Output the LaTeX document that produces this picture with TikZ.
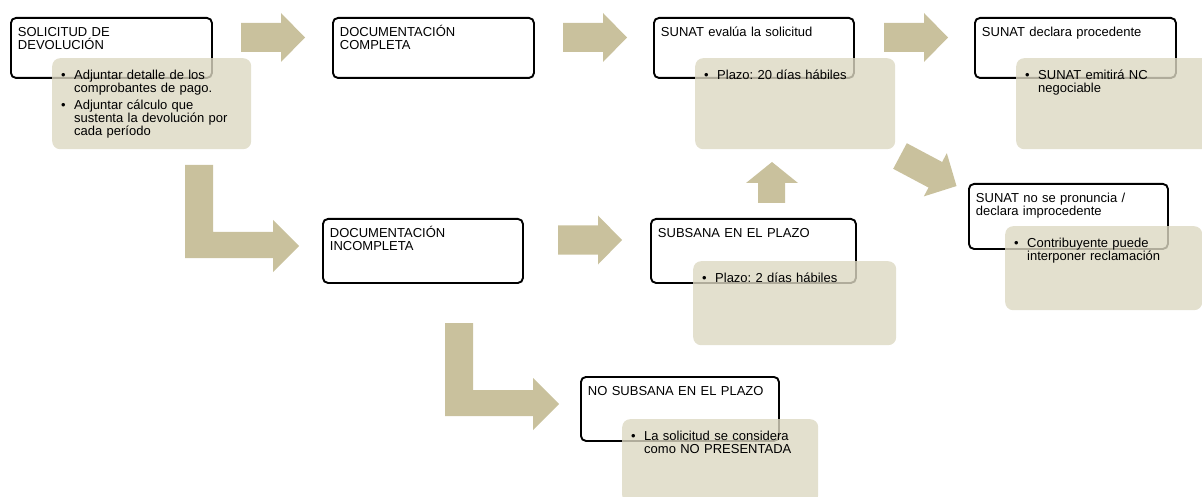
\documentclass[tikz,border=0pt]{standalone}
\usepackage{fontspec}
\setmainfont{Liberation Sans}
\usepackage{xcolor}
\usepackage{tikz}
\definecolor{flechaoliva}{HTML}{C9C19D}
\definecolor{notafondo}{HTML}{DCD8C2}
\hyphenpenalty=10000
\exhyphenpenalty=10000
\frenchspacing
\newcommand{\vineta}[1]{\hangindent=13pt\hangafter=1\noindent\makebox[13pt][l]{\textbullet}#1\par}
\tikzset{
  caja/.style={draw=black, line width=1.9pt, rounded corners=5pt, anchor=north west, align=left, inner xsep=7pt, inner ysep=7pt, text height=12pt, text depth=34pt},
  nota/.style={fill=notafondo, fill opacity=0.8, text opacity=1, rounded corners=8pt, anchor=north west, align=left, inner xsep=9pt, inner ysep=7pt, text height=14pt, text depth=63pt, text width=181pt},
  flecha/.style={fill=flechaoliva},
  flechabloque/.pic={\fill[flecha] (0,-14.5) -- (40,-14.5) -- (40,-24.5) -- (64,0) -- (40,24.5) -- (40,14.5) -- (0,14.5) -- cycle;},
  flechaL/.pic={\fill[flecha] (0,0) -- (28,0) -- (28,67) -- (88,67) -- (88,55) -- (114,81) -- (88,107) -- (88,93) -- (0,93) -- cycle;}
}

\begin{document}
\begin{tikzpicture}[x=1pt, y=-1pt, font=\fontsize{13}{13}\selectfont]
  \useasboundingbox (0,0) rectangle (1202,497);
  \clip (0,0) rectangle (1202,497);
  \foreach \xx in {241,563,884}{
    \pic at (\xx,37.5) {flechabloque};
  }
  \pic at (558,240) {flechabloque};
  \pic[rotate=-28] at (900,156) {flechabloque};
  \pic at (185,165) {flechaL};
  \pic at (445,323) {flechaL};
  \fill[flecha] (758,203) -- (758,183) -- (746,183) -- (772,162) -- (798,183) -- (785,183) -- (785,203) -- cycle;

  \node[caja, text width=187pt] (solicitud) at (10,17) {SOLICITUD DE\\DEVOLUCIÓN};
  \node[nota] (solicitudnota) at (52,58) {\vineta{Adjuntar detalle de los comprobantes de pago.}\vspace{4pt}\vineta{Adjuntar cálculo que sustenta la devolución por cada período}};
  \node[caja, text width=187pt] (completa) at (332,17) {DOCUMENTACIÓN\\COMPLETA};
  \node[caja, text width=186pt] (evalua) at (653,17) {SUNAT evalúa la solicitud};
  \node[nota, text width=182pt] (evaluanota) at (695,58) {\vineta{Plazo: 20 días hábiles}};
  \node[caja, text width=187pt] (procede) at (974,17) {SUNAT declara procedente};
  \node[nota] (procedenota) at (1016,58) {\vineta{SUNAT emitirá NC negociable}};
  \node[caja, text width=185pt, text depth=39pt] (improcede) at (968,183) {SUNAT no se pronuncia /\\declara improcedente};
  \node[nota, text width=179pt, text depth=56pt] (improcedenota) at (1005,226) {\vineta{Contribuyente puede interponer reclamación}};
  \node[caja, text width=186pt, text depth=38pt] (incompleta) at (322,218) {DOCUMENTACIÓN\\INCOMPLETA};
  \node[caja, text width=191pt, text depth=38pt] (subsana) at (650,218) {SUBSANA EN EL PLAZO};
  \node[nota, text width=185pt, text depth=56pt] (subsananota) at (693,261) {\vineta{Plazo: 2 días hábiles}};
  \node[caja, text width=184pt, text depth=38pt] (nosubsana) at (580,376) {NO SUBSANA EN EL PLAZO};
  \node[nota, text width=178pt, text depth=56pt] (nosubsananota) at (622,419) {\vineta{La solicitud se considera como NO PRESENTADA}};
\end{tikzpicture}
\end{document}
